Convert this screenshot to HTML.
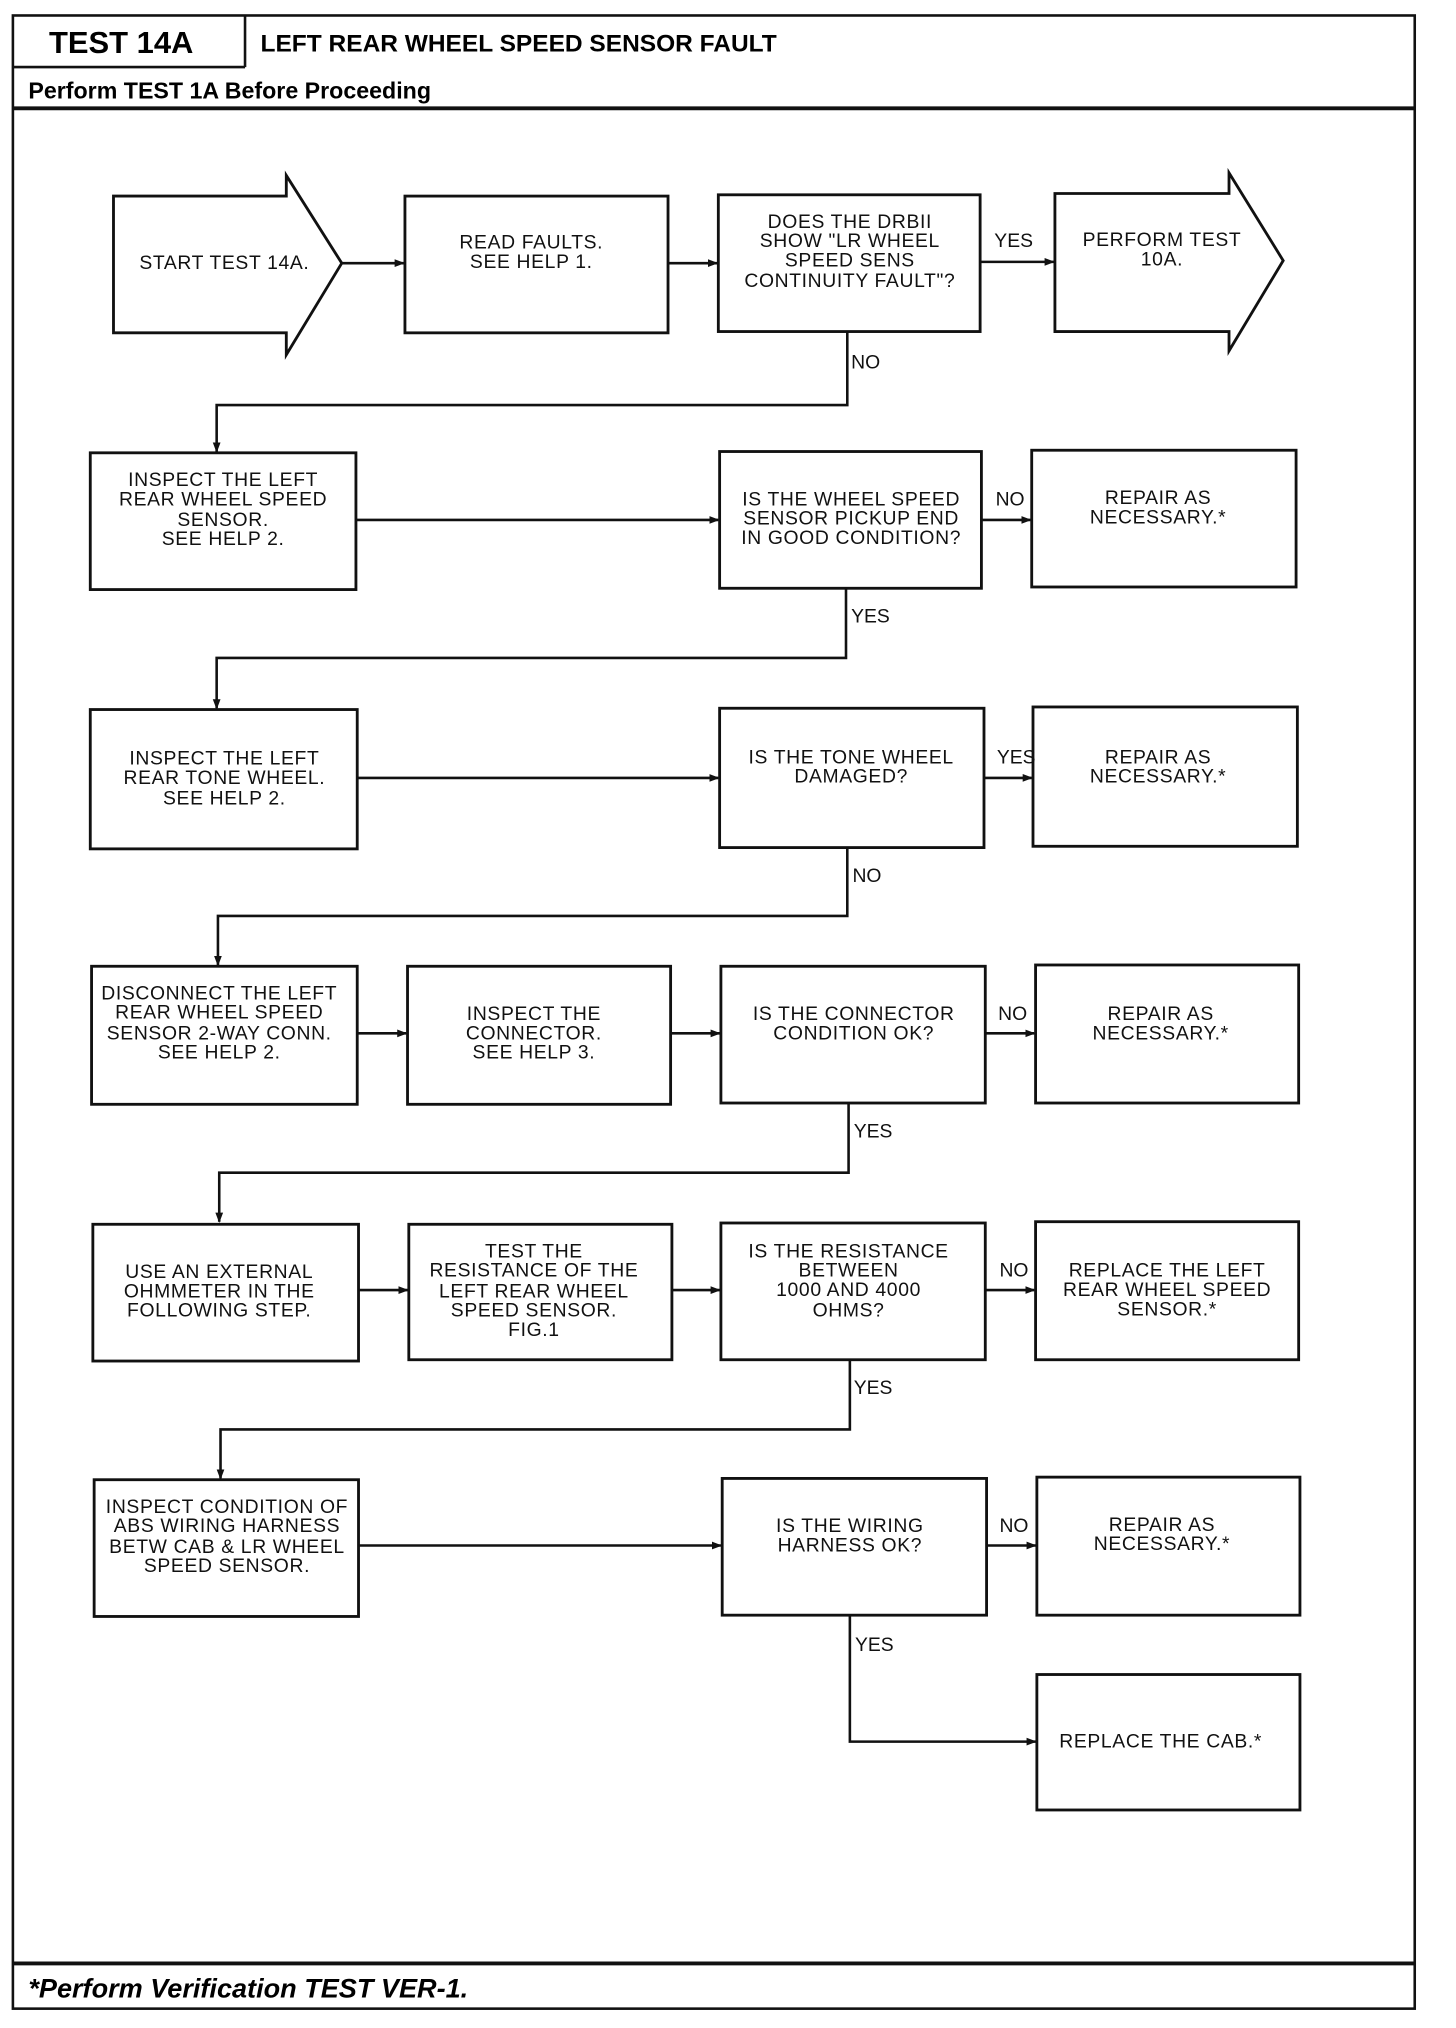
<!DOCTYPE html>
<html><head><meta charset="utf-8"><style>
html,body{margin:0;padding:0;background:#fff}
svg{display:block}
.t{font-family:"Liberation Sans Narrow","Liberation Sans",sans-serif;font-size:15px;text-anchor:middle;dominant-baseline:central;fill:#111;letter-spacing:0.5px}
.l{font-family:"Liberation Sans",sans-serif;font-size:15px;dominant-baseline:central;fill:#111}
.b{fill:#fff;stroke:#111;stroke-width:2.2}
.c{fill:none;stroke:#111;stroke-width:2}
</style></head><body>
<svg width="1456" height="2028" viewBox="0 0 1129 1572" preserveAspectRatio="none" xmlns="http://www.w3.org/2000/svg">
<defs><marker id="a" markerWidth="8" markerHeight="8" refX="7" refY="4" orient="auto" markerUnits="userSpaceOnUse"><path d="M0,1 L8,4 L0,7 z" fill="#111"/></marker></defs>
<rect x="10" y="12" width="1087" height="1545" fill="none" stroke="#111" stroke-width="2"/>
<path d="M190 12 V52 M10 52 H190" class="c"/>
<path d="M10 84 H1097" stroke="#111" stroke-width="3"/>
<path d="M10 1522 H1097" stroke="#111" stroke-width="3"/>
<text x="38" y="33" style="font-family:'Liberation Sans',sans-serif;font-weight:bold;font-size:24px;dominant-baseline:central">TEST 14A</text>
<text x="202" y="34" style="font-family:'Liberation Sans',sans-serif;font-weight:bold;font-size:19px;dominant-baseline:central">LEFT REAR WHEEL SPEED SENSOR FAULT</text>
<text x="22" y="70" style="font-family:'Liberation Sans',sans-serif;font-weight:bold;font-size:18px;dominant-baseline:central">Perform TEST 1A Before Proceeding</text>
<text x="22" y="1541" style="font-family:'Liberation Sans',sans-serif;font-weight:bold;font-style:italic;font-size:21px;dominant-baseline:central">*Perform Verification TEST VER-1.</text>

<!-- row 1 -->
<path class="b" d="M88 152 H222 V136 L265 204 L222 275 V258 H88 Z"/>
<text class="t" x="174" y="204">START TEST 14A.</text>
<rect class="b" x="314" y="152" width="204" height="106"/>
<text class="t" x="412" y="188">READ FAULTS.</text><text class="t" x="412" y="203">SEE HELP 1.</text>
<rect class="b" x="557" y="151" width="203" height="106"/>
<text class="t" x="659" y="172">DOES THE DRBII</text><text class="t" x="659" y="187">SHOW "LR WHEEL</text><text class="t" x="659" y="202">SPEED SENS</text><text class="t" x="659" y="218">CONTINUITY FAULT"?</text>
<path class="b" d="M818 150 H953 V134 L995 202 L953 272 V257 H818 Z"/>
<text class="t" x="901" y="186">PERFORM TEST</text><text class="t" x="901" y="201">10A.</text>
<path class="c" d="M265 204 H313" marker-end="url(#a)"/>
<path class="c" d="M518 204 H556" marker-end="url(#a)"/>
<path class="c" d="M760 203 H817" marker-end="url(#a)"/>
<text class="l" x="771" y="187">YES</text>
<path class="c" d="M657 257 V314 H168 V350" marker-end="url(#a)"/>
<text class="l" x="660" y="281">NO</text>

<!-- row 2 -->
<rect class="b" x="70" y="351" width="206" height="106"/>
<text class="t" x="173" y="372">INSPECT THE LEFT</text><text class="t" x="173" y="387">REAR WHEEL SPEED</text><text class="t" x="173" y="403">SENSOR.</text><text class="t" x="173" y="418">SEE HELP 2.</text>
<rect class="b" x="558" y="350" width="203" height="106"/>
<text class="t" x="660" y="387">IS THE WHEEL SPEED</text><text class="t" x="660" y="402">SENSOR PICKUP END</text><text class="t" x="660" y="417">IN GOOD CONDITION?</text>
<rect class="b" x="800" y="349" width="205" height="106"/>
<text class="t" x="898" y="386">REPAIR AS</text><text class="t" x="898" y="401">NECESSARY.*</text>
<path class="c" d="M276 403 H557" marker-end="url(#a)"/>
<path class="c" d="M761 403 H799" marker-end="url(#a)"/>
<text class="l" x="772" y="387">NO</text>
<path class="c" d="M656 456 V510 H168 V549" marker-end="url(#a)"/>
<text class="l" x="660" y="478">YES</text>

<!-- row 3 -->
<rect class="b" x="70" y="550" width="207" height="108"/>
<text class="t" x="174" y="588">INSPECT THE LEFT</text><text class="t" x="174" y="603">REAR TONE WHEEL.</text><text class="t" x="174" y="619">SEE HELP 2.</text>
<rect class="b" x="558" y="549" width="205" height="108"/>
<text class="t" x="660" y="587">IS THE TONE WHEEL</text><text class="t" x="660" y="602">DAMAGED?</text>
<rect class="b" x="801" y="548" width="205" height="108"/>
<text class="t" x="898" y="587">REPAIR AS</text><text class="t" x="898" y="602">NECESSARY.*</text>
<path class="c" d="M277 603 H557" marker-end="url(#a)"/>
<path class="c" d="M763 603 H800" marker-end="url(#a)"/>
<text class="l" x="773" y="587">YES</text>
<path class="c" d="M657 657 V710 H169 V748" marker-end="url(#a)"/>
<text class="l" x="661" y="679">NO</text>

<!-- row 4 -->
<rect class="b" x="71" y="749" width="206" height="107"/>
<text class="t" x="170" y="770">DISCONNECT THE LEFT</text><text class="t" x="170" y="785">REAR WHEEL SPEED</text><text class="t" x="170" y="801">SENSOR 2-WAY CONN.</text><text class="t" x="170" y="816">SEE HELP 2.</text>
<rect class="b" x="316" y="749" width="204" height="107"/>
<text class="t" x="414" y="786">INSPECT THE</text><text class="t" x="414" y="801">CONNECTOR.</text><text class="t" x="414" y="816">SEE HELP 3.</text>
<rect class="b" x="559" y="749" width="205" height="106"/>
<text class="t" x="662" y="786">IS THE CONNECTOR</text><text class="t" x="662" y="801">CONDITION OK?</text>
<rect class="b" x="803" y="748" width="204" height="107"/>
<text class="t" x="900" y="786">REPAIR AS</text><text class="t" x="900" y="801">NECESSARY.*</text>
<path class="c" d="M277 801 H315" marker-end="url(#a)"/>
<path class="c" d="M520 801 H558" marker-end="url(#a)"/>
<path class="c" d="M764 801 H802" marker-end="url(#a)"/>
<text class="l" x="774" y="786">NO</text>
<path class="c" d="M658 855 V909 H170 V947" marker-end="url(#a)"/>
<text class="l" x="662" y="877">YES</text>

<!-- row 5 -->
<rect class="b" x="72" y="949" width="206" height="106"/>
<text class="t" x="170" y="986">USE AN EXTERNAL</text><text class="t" x="170" y="1001">OHMMETER IN THE</text><text class="t" x="170" y="1016">FOLLOWING STEP.</text>
<rect class="b" x="317" y="949" width="204" height="105"/>
<text class="t" x="414" y="970">TEST THE</text><text class="t" x="414" y="985">RESISTANCE OF THE</text><text class="t" x="414" y="1001">LEFT REAR WHEEL</text><text class="t" x="414" y="1016">SPEED SENSOR.</text><text class="t" x="414" y="1031">FIG.1</text>
<rect class="b" x="559" y="948" width="205" height="106"/>
<text class="t" x="658" y="970">IS THE RESISTANCE</text><text class="t" x="658" y="985">BETWEEN</text><text class="t" x="658" y="1000">1000 AND 4000</text><text class="t" x="658" y="1016">OHMS?</text>
<rect class="b" x="803" y="947" width="204" height="107"/>
<text class="t" x="905" y="985">REPLACE THE LEFT</text><text class="t" x="905" y="1000">REAR WHEEL SPEED</text><text class="t" x="905" y="1015">SENSOR.*</text>
<path class="c" d="M278 1000 H316" marker-end="url(#a)"/>
<path class="c" d="M521 1000 H558" marker-end="url(#a)"/>
<path class="c" d="M764 1000 H802" marker-end="url(#a)"/>
<text class="l" x="775" y="985">NO</text>
<path class="c" d="M659 1054 V1108 H171 V1146" marker-end="url(#a)"/>
<text class="l" x="662" y="1076">YES</text>

<!-- row 6 -->
<rect class="b" x="73" y="1147" width="205" height="106"/>
<text class="t" x="176" y="1168">INSPECT CONDITION OF</text><text class="t" x="176" y="1183">ABS WIRING HARNESS</text><text class="t" x="176" y="1199">BETW CAB &amp; LR WHEEL</text><text class="t" x="176" y="1214">SPEED SENSOR.</text>
<rect class="b" x="560" y="1146" width="205" height="106"/>
<text class="t" x="659" y="1183">IS THE WIRING</text><text class="t" x="659" y="1198">HARNESS OK?</text>
<rect class="b" x="804" y="1145" width="204" height="107"/>
<text class="t" x="901" y="1182">REPAIR AS</text><text class="t" x="901" y="1197">NECESSARY.*</text>
<path class="c" d="M278 1198 H559" marker-end="url(#a)"/>
<path class="c" d="M765 1198 H803" marker-end="url(#a)"/>
<text class="l" x="775" y="1183">NO</text>
<path class="c" d="M659 1252 V1350 H803" marker-end="url(#a)"/>
<text class="l" x="663" y="1275">YES</text>
<rect class="b" x="804" y="1298" width="204" height="105"/>
<text class="t" x="900" y="1350">REPLACE THE CAB.*</text>
</svg>
</body></html>
